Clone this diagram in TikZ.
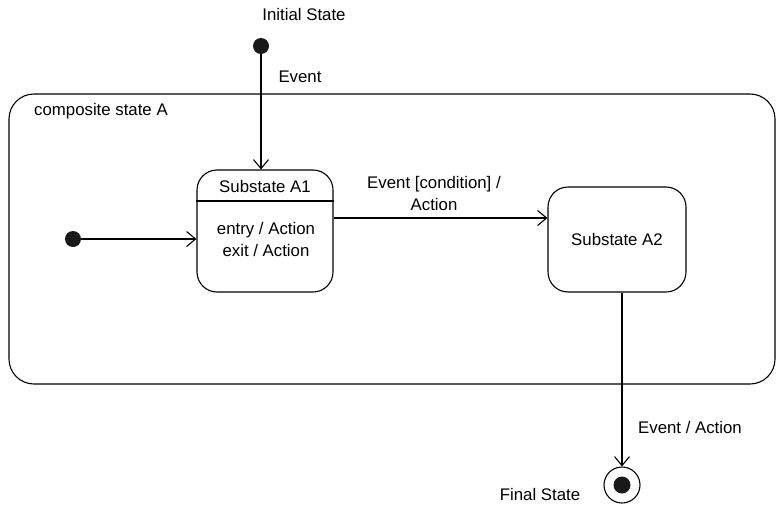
\documentclass[tikz,border=0pt]{standalone}
\usepackage{fontspec}
\setmainfont{Liberation Sans}
\usetikzlibrary{arrows.meta}
\begin{document}
\begin{tikzpicture}[x=1pt,y=-1pt,
  every node/.style={font=\fontsize{16.8}{22}\selectfont},
  lbl/.style={inner sep=0pt,align=center},
  statebox/.style={draw,line width=1.1pt,rounded corners=20pt,inner sep=0pt},
  dot/.style={circle,fill=black!90,inner sep=0pt,minimum size=16pt},
  arr/.style={line width=1.1pt,-{Straight Barb[length=9pt,width=15pt,line width=1.1pt]}}]
\useasboundingbox (0,0) rectangle (776,506);
% composite
\node[statebox,rounded corners=25pt,minimum width=766pt,minimum height=290pt] (comp) at (392,239) {};
\node[lbl,anchor=west] (compl) at (34,111) {composite state A};
% substate A1
\node[statebox,minimum width=136pt,minimum height=122pt] (A1) at (265,231) {};
\draw[line width=1.1pt] (A1.west |- 0,201) coordinate (dl) -- (A1.east |- 0,201) coordinate (dr);
\node[lbl] (A1t) at (265,186) {Substate A1};
\node[lbl] (A1b) at (266,239) {entry / Action\\exit / Action};
% substate A2
\node[statebox,minimum width=138pt,minimum height=105pt] (A2) at (617,239.5) {Substate A2};
% initial states
\node[dot] (init) at (261,46) {};
\node[lbl] (initl) at (304,14) {Initial State};
\node[dot] (init2) at (73,239) {};
% final state
\node[circle,draw,line width=1.1pt,minimum size=36pt,inner sep=0pt] (fin) at (622,485) {};
\node[circle,fill=black!90,minimum size=17pt,inner sep=0pt] (finin) at (fin) {};
\node[lbl] (finl) at (540,494) {Final State};
% transitions
\draw[arr] (init) -- (init |- A1.north);
\node[lbl] (ev1) at (300,77) {Event};
\draw[arr] (init2) -- (init2 -| A1.west);
\draw[arr] ([yshift=13pt]A1.east) -- ([yshift=13pt]A1.east -| A2.west);
\node[lbl] (ev2) at (434,193) {Event [condition] /\\Action};
\draw[arr] (fin |- A2.south) -- (fin.north);
\node[lbl] (ev3) at (690,427) {Event / Action};
\end{tikzpicture}
\end{document}
